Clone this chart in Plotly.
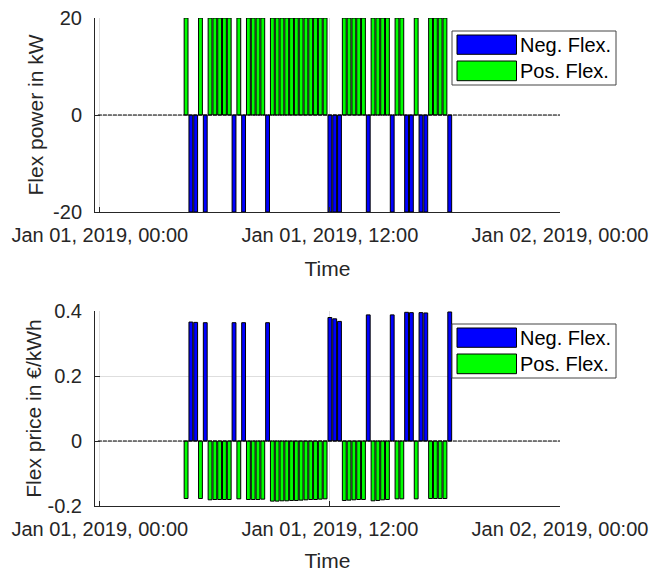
import plotly.graph_objects as go
import pandas as pd

# ---------------- data ----------------
day = "2019-01-01"
slot_minutes = 15

neg_times = ["04:45", "05:00", "05:30", "07:00", "07:30", "08:45",
             "12:00", "12:15", "12:30", "14:00", "15:15", "16:00",
             "16:15", "16:45", "17:00", "18:15"]
neg_power = [-20] * 16
neg_price = [0.366, 0.365, 0.364, 0.364, 0.364, 0.364,
             0.380, 0.376, 0.368, 0.388, 0.388, 0.396,
             0.395, 0.395, 0.394, 0.397]

pos_times = ["04:30", "05:15",
             "05:45", "06:00", "06:15", "06:30", "06:45",
             "07:15",
             "07:45", "08:00", "08:15", "08:30",
             "09:00", "09:15", "09:30", "09:45", "10:00", "10:15",
             "10:30", "10:45", "11:00", "11:15", "11:30", "11:45",
             "12:45", "13:00", "13:15", "13:30", "13:45",
             "14:15", "14:30", "14:45", "15:00",
             "15:30", "15:45",
             "16:30",
             "17:15", "17:30", "17:45", "18:00"]
pos_power = [20] * 40
pos_price = [-0.177, -0.177,
             -0.181, -0.180, -0.180, -0.180, -0.180,
             -0.178,
             -0.180, -0.180, -0.180, -0.179,
             -0.185, -0.185, -0.184, -0.184, -0.183, -0.183,
             -0.182, -0.181, -0.180, -0.180, -0.179, -0.178,
             -0.183, -0.182, -0.181, -0.180, -0.180,
             -0.184, -0.183, -0.181, -0.180,
             -0.178, -0.178,
             -0.178,
             -0.177, -0.177, -0.177, -0.177]

x_tick_vals = ["2019-01-01 00:00", "2019-01-01 12:00", "2019-01-02 00:00"]
x_tick_text = ["Jan 01, 2019, 00:00", "Jan 01, 2019, 12:00", "Jan 02, 2019, 00:00"]
power_ticks = [-20, 0, 20]
power_tick_text = ["-20", "0", "20"]
price_ticks = [-0.2, 0, 0.2, 0.4]
price_tick_text = ["-0.2", "0", "0.2", "0.4"]
legend_labels = ["Neg. Flex.", "Pos. Flex."]

# ---------------- helpers ----------------
neg_x = pd.to_datetime([f"{day} {t}" for t in neg_times])
pos_x = pd.to_datetime([f"{day} {t}" for t in pos_times])
all_slots = pd.date_range(f"{day} 00:00", periods=96, freq=f"{slot_minutes}min")
bar_w = 0.8 * slot_minutes * 60 * 1000
x_range = [all_slots[0] - pd.Timedelta(minutes=slot_minutes),
           all_slots[-1] + pd.Timedelta(minutes=slot_minutes)]

BLUE = "#0000ff"
GREEN = "#00ff00"
AX = "#262626"
GRID = "#dedede"
FONT = "Liberation Sans, Arial, sans-serif"

W, H = 657, 572
L, R, T, B = 95, 97, 18, 66
PW, PH = W - L - R, H - T - B


def px(xp):
    return (xp - L) / PW


def py(yp):
    return (H - B - yp) / PH


fig = go.Figure()

for xa, ya, vals_n, vals_p in [("x", "y", neg_power, pos_power),
                                ("x2", "y2", neg_price, pos_price)]:
    fig.add_trace(go.Scatter(
        x=[x_range[0] + pd.Timedelta(minutes=slot_minutes) * 0.6, x_range[1]],
        y=[0, 0], mode="lines",
        line=dict(color="black", width=1.2, dash="4px,1px"),
        xaxis=xa, yaxis=ya, showlegend=False, hoverinfo="skip"))
    fig.add_trace(go.Bar(
        x=neg_x, y=vals_n, width=bar_w, name=legend_labels[0],
        marker=dict(color=BLUE, line=dict(color="black", width=1)),
        xaxis=xa, yaxis=ya, showlegend=False))
    fig.add_trace(go.Bar(
        x=pos_x, y=vals_p, width=bar_w, name=legend_labels[1],
        marker=dict(color=GREEN, line=dict(color="black", width=1)),
        xaxis=xa, yaxis=ya, showlegend=False))

top_dom = [py(212), 1.0]
bot_dom = [0.0, py(311)]

xcommon = dict(
    type="date", range=x_range, tickvals=x_tick_vals, ticktext=x_tick_text,
    ticks="inside", ticklen=5, tickcolor=AX, showgrid=True, gridcolor=GRID,
    gridwidth=1, showline=True, linecolor=AX, linewidth=1, mirror=False,
    zeroline=False, tickfont=dict(size=20, color=AX, family=FONT),
    ticklabelstandoff=5, automargin=False,
    title=dict(text="Time", font=dict(size=21, color=AX, family=FONT), standoff=16),
)
ycommon = dict(
    ticks="inside", ticklen=5, tickcolor=AX, showgrid=True, gridcolor=GRID,
    showline=True, linecolor=AX, zeroline=False, automargin=False,
    tickfont=dict(size=20, color=AX, family=FONT), ticklabelstandoff=8,
)
fig.update_layout(
    xaxis=dict(domain=[0, 1], anchor="y", **xcommon),
    xaxis2=dict(domain=[0, 1], anchor="y2", **xcommon),
    yaxis=dict(domain=top_dom, anchor="x", range=[-20, 20], tickvals=power_ticks,
               ticktext=power_tick_text,
               title=dict(text="Flex power in kW", font=dict(size=21, color=AX, family=FONT),
                          standoff=3), **ycommon),
    yaxis2=dict(domain=bot_dom, anchor="x2", range=[-0.2, 0.4], tickvals=price_ticks,
                ticktext=price_tick_text,
                title=dict(text="Flex price in €/kWh", font=dict(size=21, color=AX, family=FONT),
                           standoff=0), **ycommon),
    barmode="overlay",
    width=W, height=H,
    margin=dict(l=L, r=R, t=T, b=B, autoexpand=False),
    paper_bgcolor="white", plot_bgcolor="white",
    showlegend=False,
    font=dict(family=FONT, color=AX),
)

# manual MATLAB-style legends
shapes = []
annotations = []
for off in [0, 293]:
    shapes.append(dict(type="rect", xref="paper", yref="paper",
                       x0=px(452), x1=px(616), y0=py(85 + off), y1=py(31 + off),
                       line=dict(color="#444444", width=1), fillcolor="white", layer="above"))
    for color, (y0, y1), label, yc in [(BLUE, (35, 54.3), legend_labels[0], 44.5),
                                       (GREEN, (61, 80.7), legend_labels[1], 71)]:
        shapes.append(dict(type="rect", xref="paper", yref="paper",
                           x0=px(457), x1=px(516.5), y0=py(y1 + off), y1=py(y0 + off),
                           line=dict(color="black", width=1), fillcolor=color, layer="above"))
        annotations.append(dict(text=label, xref="paper", yref="paper",
                                x=px(518), y=py(yc + off), xanchor="left", yanchor="middle",
                                showarrow=False,
                                font=dict(size=20, color="black", family=FONT)))
fig.update_layout(shapes=shapes, annotations=annotations)

fig.write_html("out.html", config={"displayModeBar": False},
               post_script="document.body.style.margin='0';document.body.style.overflow='hidden';")
